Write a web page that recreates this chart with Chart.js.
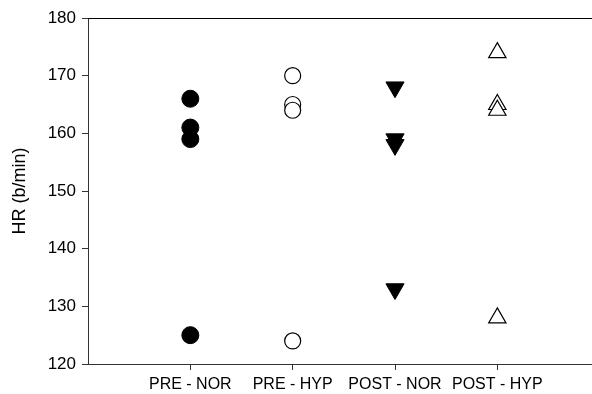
<!DOCTYPE html>
<html>
<head>
<meta charset="utf-8">
<script src="https://cdn.jsdelivr.net/npm/chart.js@4/dist/chart.umd.min.js"></script>
<style>
  html, body { margin: 0; padding: 0; background: #fff; }
  #wrap { width: 592px; height: 394px; }
</style>
</head>
<body>
<div id="wrap"><canvas id="hr" width="592" height="394"></canvas></div>
<script>
// Heart rate per condition (b/min)
const groups = ['PRE - NOR', 'PRE - HYP', 'POST - NOR', 'POST - HYP'];
const preNor  = [166, 161, 159, 125];
const preHyp  = [170, 165, 164, 124];
const postNor = [168, 159, 158, 133];
const postHyp = [174, 165, 164, 128];
const yTicks  = [120, 130, 140, 150, 160, 170, 180];

const FONT = 'Liberation Sans, Arial, sans-serif';
const AXIS = '#333';

function pts(idx, vals) {
  return vals.map(v => ({ x: idx, y: v }));
}

// Closes the frame along the top edge of the plot area
const topRule = {
  id: 'topRule',
  afterDraw(chart) {
    const { ctx, chartArea } = chart;
    ctx.save();
    ctx.strokeStyle = '#000';
    ctx.lineWidth = 1;
    ctx.beginPath();
    ctx.moveTo(chartArea.left, Math.round(chartArea.top) + 0.5);
    ctx.lineTo(chart.width, Math.round(chartArea.top) + 0.5);
    ctx.stroke();
    ctx.restore();
  }
};

new Chart(document.getElementById('hr'), {
  type: 'scatter',
  data: {
    datasets: [
      { label: groups[0], data: pts(0, preNor), pointStyle: 'circle', pointRadius: 8.5,
        backgroundColor: '#000', borderColor: '#000', borderWidth: 1 },
      { label: groups[1], data: pts(1, preHyp), pointStyle: 'circle', pointRadius: 8,
        backgroundColor: '#fff', borderColor: '#000', borderWidth: 1.2 },
      { label: groups[2], data: pts(2, postNor), pointStyle: 'triangle', rotation: 180, pointRadius: 10.5,
        backgroundColor: '#000', borderColor: '#000', borderWidth: 1 },
      { label: groups[3], data: pts(3, postHyp), pointStyle: 'triangle', pointRadius: 10,
        backgroundColor: '#fff', borderColor: '#000', borderWidth: 1.2 }
    ]
  },
  options: {
    responsive: false,
    animation: false,
    events: [],
    layout: { autoPadding: false, padding: { top: 18, right: 0, left: 0, bottom: 0 } },
    plugins: { legend: { display: false }, tooltip: { enabled: false } },
    scales: {
      x: {
        type: 'linear',
        min: -1,
        max: 3.925,
        afterBuildTicks(scale) { scale.ticks = groups.map((g, i) => ({ value: i })); },
        afterFit(scale) {
          scale.height = 30;
          scale.paddingLeft = 0;
          scale.paddingRight = 0;
        },
        ticks: {
          color: '#000',
          font: { family: FONT, size: 16 },
          padding: 5,
          maxRotation: 0,
          autoSkip: false,
          callback: (v) => groups[v] ?? ''
        },
        grid: { drawOnChartArea: false, drawTicks: true, tickLength: 6, color: AXIS },
        border: { display: true, color: AXIS, width: 1 }
      },
      y: {
        min: 120,
        max: 180,
        afterBuildTicks(scale) { scale.ticks = yTicks.map(v => ({ value: v })); },
        afterFit(scale) { scale.width = 88; },
        ticks: {
          color: '#000',
          font: { family: FONT, size: 17 },
          padding: 6
        },
        grid: { drawOnChartArea: false, drawTicks: true, tickLength: 6, color: AXIS },
        border: { display: true, color: AXIS, width: 1 },
        title: {
          display: true,
          text: 'HR (b/min)',
          color: '#000',
          font: { family: FONT, size: 18 },
          padding: { top: 9, bottom: 0 }
        }
      }
    }
  },
  plugins: [topRule]
});
</script>
</body>
</html>
